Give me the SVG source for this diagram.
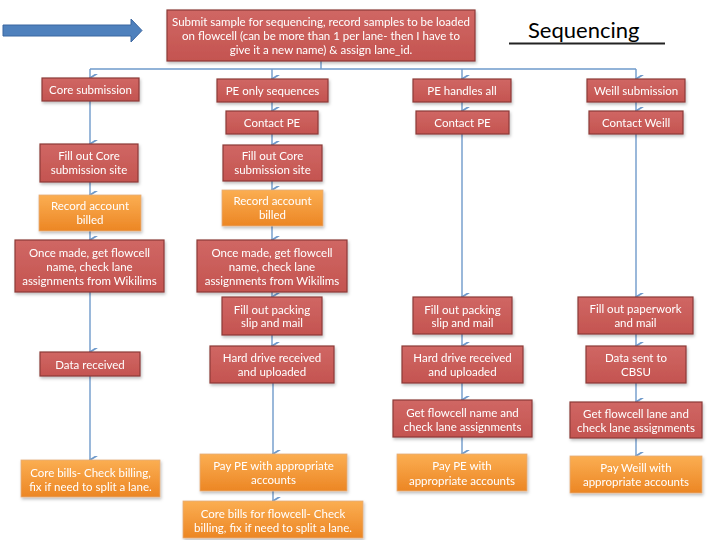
<svg xmlns="http://www.w3.org/2000/svg" width="720" height="540" viewBox="0 0 720 540">
<style>
.r{fill:url(#gr);stroke:#8c3a37;stroke-width:1.2}
.o{fill:url(#go);stroke:#e4ad7a;stroke-width:0.8}
text{font-family:Lato,"Open Sans","Liberation Sans",sans-serif;font-size:11.5px;fill:#ffffff;text-anchor:middle}
.c{fill:none;stroke:#6f9acb;stroke-width:1.4;marker-end:url(#ah)}
.t{font-size:22px;fill:#000000;text-anchor:start}
</style>
<defs>
<linearGradient id="gr" x1="0" y1="0" x2="0" y2="1"><stop offset="0" stop-color="#d06764"/><stop offset="1" stop-color="#c45450"/></linearGradient>
<linearGradient id="go" x1="0" y1="0" x2="0" y2="1"><stop offset="0" stop-color="#fbae52"/><stop offset="1" stop-color="#ec8624"/></linearGradient>
<marker id="ah" viewBox="0 0 10 10" refX="5" refY="9" markerWidth="9" markerHeight="9" markerUnits="userSpaceOnUse" orient="auto-start-reverse">
<path d="M0,1 L5,9 L10,1" fill="none" stroke="#6f9acb" stroke-width="2"/>
</marker>
<filter id="sh" x="-10%" y="-10%" width="130%" height="140%"><feDropShadow dx="1" dy="2" stdDeviation="1.5" flood-color="#000" flood-opacity="0.25"/></filter>
</defs>
<rect width="720" height="540" fill="#ffffff"/>
<g id="start-arrow"><path d="M3,25 H131 V19 L142,30.5 L131,42 V36 H3 Z" fill="#4f81bd" stroke="#3b66a0" stroke-width="1"/></g>
<g id="title"><text class="t" x="528" y="38">Sequencing</text><line x1="509" y1="43.5" x2="665" y2="43.5" stroke="#222" stroke-width="2"/></g>
<g id="connectors">
<path class="c" d="M321,61 V69 M90,69 H636" style="marker-end:none"/>
<path class="c" d="M90,69 V78"/>
<path class="c" d="M272,69 V79"/>
<path class="c" d="M462,69 V79"/>
<path class="c" d="M636,69 V79"/>
<path class="c" d="M90,101 V144"/>
<path class="c" d="M90,182 V195"/>
<path class="c" d="M90,231 V240"/>
<path class="c" d="M90,292 V352"/>
<path class="c" d="M90,376 V460"/>
<path class="c" d="M272,102 V111"/>
<path class="c" d="M272,134 V145"/>
<path class="c" d="M272,181 V190"/>
<path class="c" d="M272,226 V240"/>
<path class="c" d="M272,292 V297"/>
<path class="c" d="M272,335 V346"/>
<path class="c" d="M273,383 V454"/>
<path class="c" d="M273,491 V501"/>
<path class="c" d="M462,102 V111"/>
<path class="c" d="M462,134 V297"/>
<path class="c" d="M462,334 V346"/>
<path class="c" d="M462,383 V400"/>
<path class="c" d="M462,437 V454"/>
<path class="c" d="M636,102 V111"/>
<path class="c" d="M636,134 V297"/>
<path class="c" d="M636,334 V346"/>
<path class="c" d="M636,383 V402"/>
<path class="c" d="M636,438 V456"/>
</g>
<g filter="url(#sh)">
<g id="submit"><rect class="r" x="167" y="10" width="308" height="51"/><text x="321" y="26">Submit sample for sequencing, record samples to be loaded</text><text x="321" y="40">on flowcell (can be more than 1 per lane- then I have to</text><text x="321" y="54">give it a new name) &amp; assign lane_id.</text></g>
<g id="core-submission"><rect class="r" x="42" y="78" width="97" height="23"/><text x="90.5" y="93.5">Core submission</text></g>
<g id="core-fill"><rect class="r" x="40" y="144" width="98" height="38"/><text x="89" y="160">Fill out Core</text><text x="89" y="174">submission site</text></g>
<g id="core-record"><rect class="o" x="39" y="195" width="102" height="36"/><text x="90" y="210">Record account</text><text x="90" y="224">billed</text></g>
<g id="core-once"><rect class="r" x="15" y="240" width="149" height="52"/><text x="89.5" y="257">Once made, get flowcell</text><text x="89.5" y="271">name, check lane</text><text x="89.5" y="285">assignments from Wikilims</text></g>
<g id="core-data"><rect class="r" x="40" y="352" width="100" height="24"/><text x="90" y="368.5">Data received</text></g>
<g id="core-bills"><rect class="o" x="21" y="460" width="139" height="37"/><text x="90.5" y="477">Core bills- Check billing,</text><text x="90.5" y="490.5">fix if need to split a lane.</text></g>
<g id="pe-only"><rect class="r" x="217" y="79" width="111" height="23"/><text x="272.5" y="94.5">PE only sequences</text></g>
<g id="pe-only-contact"><rect class="r" x="226" y="111" width="92" height="23"/><text x="272" y="126.5">Contact PE</text></g>
<g id="pe-only-fill"><rect class="r" x="223" y="145" width="99" height="36"/><text x="272.5" y="160">Fill out Core</text><text x="272.5" y="174">submission site</text></g>
<g id="pe-only-record"><rect class="o" x="222" y="190" width="101" height="36"/><text x="272.5" y="205">Record account</text><text x="272.5" y="219">billed</text></g>
<g id="pe-only-once"><rect class="r" x="197" y="240" width="150" height="52"/><text x="272" y="257">Once made, get flowcell</text><text x="272" y="271">name, check lane</text><text x="272" y="285">assignments from Wikilims</text></g>
<g id="pe-only-packing"><rect class="r" x="222" y="297" width="100" height="38"/><text x="272" y="313.5">Fill out packing</text><text x="272" y="327">slip and mail</text></g>
<g id="pe-only-hd"><rect class="r" x="210" y="346" width="124" height="37"/><text x="272" y="362">Hard drive received</text><text x="272" y="376">and uploaded</text></g>
<g id="pe-only-pay"><rect class="o" x="200" y="454" width="147" height="37"/><text x="273.5" y="470">Pay PE with appropriate</text><text x="273.5" y="484">accounts</text></g>
<g id="pe-only-core-bills"><rect class="o" x="183" y="501" width="180" height="37"/><text x="273" y="518">Core bills for flowcell- Check</text><text x="273" y="532">billing, fix if need to split a lane.</text></g>
<g id="pe-all"><rect class="r" x="413" y="79" width="98" height="23"/><text x="462" y="94.5">PE handles all</text></g>
<g id="pe-all-contact"><rect class="r" x="416" y="111" width="93" height="23"/><text x="462.5" y="126.5">Contact PE</text></g>
<g id="pe-all-packing"><rect class="r" x="413" y="297" width="99" height="37"/><text x="462.5" y="313.5">Fill out packing</text><text x="462.5" y="327">slip and mail</text></g>
<g id="pe-all-hd"><rect class="r" x="402" y="346" width="121" height="37"/><text x="462.5" y="362">Hard drive received</text><text x="462.5" y="376">and uploaded</text></g>
<g id="pe-all-get"><rect class="r" x="393" y="400" width="139" height="37"/><text x="462.5" y="417">Get flowcell name and</text><text x="462.5" y="431">check lane assignments</text></g>
<g id="pe-all-pay"><rect class="o" x="397" y="454" width="130" height="37"/><text x="462" y="470">Pay PE with</text><text x="462" y="484.5">appropriate accounts</text></g>
<g id="weill"><rect class="r" x="587" y="79" width="98" height="23"/><text x="636" y="94.5">Weill submission</text></g>
<g id="weill-contact"><rect class="r" x="589" y="111" width="94" height="23"/><text x="636" y="126.5">Contact Weill</text></g>
<g id="weill-paperwork"><rect class="r" x="578" y="297" width="115" height="37"/><text x="635.5" y="313">Fill out paperwork</text><text x="635.5" y="327">and mail</text></g>
<g id="weill-data"><rect class="r" x="586" y="346" width="100" height="37"/><text x="636" y="362">Data sent to</text><text x="636" y="376">CBSU</text></g>
<g id="weill-get"><rect class="r" x="570" y="402" width="132" height="36"/><text x="636" y="418">Get flowcell lane and</text><text x="636" y="432">check lane assignments</text></g>
<g id="weill-pay"><rect class="o" x="570" y="456" width="132" height="37"/><text x="636" y="472">Pay Weill with</text><text x="636" y="486">appropriate accounts</text></g>
</g>
</svg>
